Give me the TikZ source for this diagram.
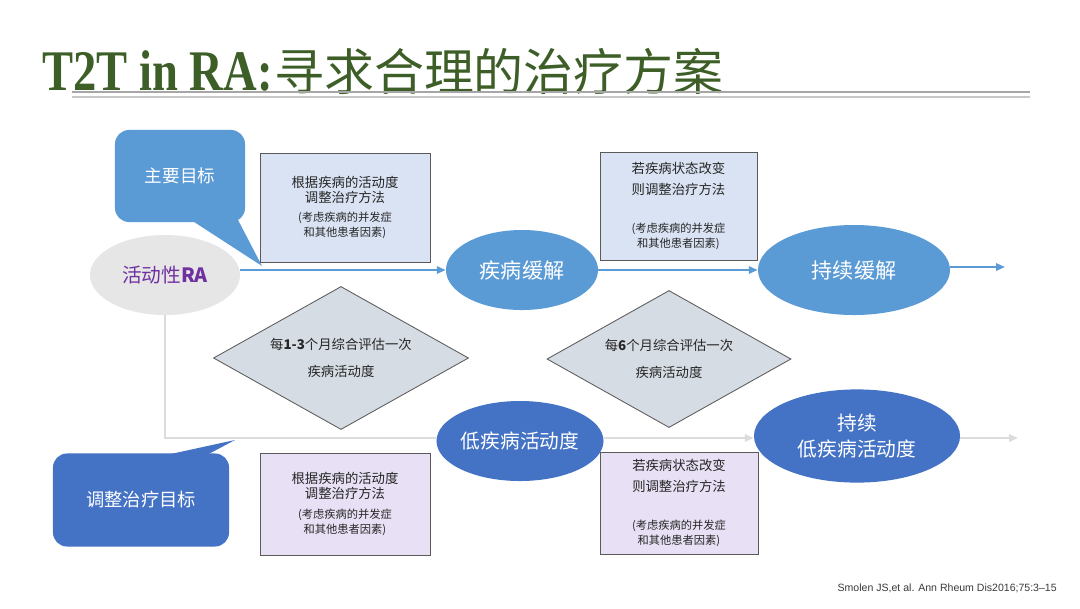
\documentclass[tikz,border=0pt]{standalone}
\usepackage{fontspec}
\setmainfont{Noto Sans CJK SC}
\newfontfamily\titleserif{Liberation Serif}
\newfontfamily\citefont{Liberation Sans}
\usepackage{tikz}
\usetikzlibrary{arrows.meta,shapes.geometric}
\definecolor{RABlue}{HTML}{5B9BD5}
\definecolor{RABlueDk}{HTML}{4472C4}
\definecolor{RAGrayFill}{HTML}{E7E6E6}
\definecolor{RAPurple}{HTML}{7030A0}
\definecolor{RANoteBlue}{HTML}{DAE3F3}
\definecolor{RANotePurple}{HTML}{E8E0F4}
\definecolor{RADiamond}{HTML}{D6DCE4}
\definecolor{RAEdge}{HTML}{5A5A5A}
\definecolor{RAInk}{HTML}{262626}
\definecolor{RALine}{HTML}{DCDCDC}
\definecolor{RAGreen}{HTML}{3D5F27}
\definecolor{RARule}{HTML}{A6A6A6}
\definecolor{RARuleLt}{HTML}{C8C8C8}
\definecolor{RACite}{HTML}{3A3A3A}
\newcommand\notesmall{\fontsize{8}{10.5}\selectfont}
\tikzset{
  flow/.style={-{Triangle[length=2.2mm,width=1.8mm]},RABlue,line width=1.4pt},
  flowgray/.style={flow,RALine},
  track/.style={RALine,line width=1.4pt},
  titlerule/.style={RARule,line width=1.4pt},
  titlerulelt/.style={RARuleLt,line width=1.1pt},
  goal/.style={ellipse,fill=RABlue,text=white,inner sep=0pt,align=center,
               font=\fontsize{15}{18}\selectfont},
  goallow/.style={goal,fill=RABlueDk,font=\fontsize{14}{18.5}\selectfont},
  start/.style={ellipse,fill=RAGrayFill,text=RAPurple,inner sep=0pt,
                font=\fontsize{14}{17}\selectfont},
  note/.style={draw=RAEdge,line width=0.6pt,fill=RANoteBlue,text=RAInk,
               align=center,inner sep=0pt,font=\fontsize{9.5}{10.7}\selectfont},
  notepurple/.style={note,fill=RANotePurple},
  check/.style={diamond,aspect=1.8,draw=RAEdge,line width=0.6pt,fill=RADiamond,
                text=RAInk,align=center,inner sep=0pt,font=\fontsize{9.5}{19}\selectfont},
  bubble/.style={fill=RABlue,rounded corners=3.5mm,text=white,inner sep=0pt,
                 font=\fontsize{12.5}{15}\selectfont},
  bubbledark/.style={bubble,fill=RABlueDk,font=\fontsize{13}{15}\selectfont},
}
\begin{document}
\begin{tikzpicture}[x=0.025cm,y=-0.025cm]
  \useasboundingbox[fill=white] (0,0) rectangle (1080,608);

  \node[anchor=base west,inner sep=0pt,text=RAGreen] (ttl) at (42,90)
    {\scalebox{0.77}[0.95]{\titleserif\fontsize{43}{46}\selectfont\bfseries T2T in RA:}};
  \node[anchor=base west,inner sep=0pt,text=RAGreen,font=\fontsize{35.5}{40}\selectfont] (ttlcn) at (274,90)
    {寻求合理的治疗方案};
  \draw[titlerule] (72,92) -- (1030,92);
  \draw[titlerulelt] (72,97) -- (1030,97);

  \fill[RABlue] (188,218) -- (262,266) -- (237,218) -- cycle;
  \node[bubble,minimum width=3.25cm,minimum height=2.3cm] (aim) at (180,176) {主要目标};
  \fill[RABlueDk] (157,457) -- (235,440) -- (203,457) -- cycle;
  \node[bubbledark,minimum width=4.4cm,minimum height=2.325cm] (reaim) at (141,500) {调整治疗目标};

  \node[start,minimum width=3.75cm,minimum height=2.0cm] (ra) at (165,275) {活动性\textbf{RA}};
  \node[goal,minimum width=3.8cm,minimum height=2.0cm] (rem) at (522,270) {疾病缓解};
  \node[goal,minimum width=4.8cm,minimum height=2.25cm] (srem) at (854,270) {持续缓解};
  \node[goallow,minimum width=4.15cm,minimum height=2.0cm] (low) at (520,441) {低疾病活动度};
  \node[goallow,minimum width=5.15cm,minimum height=2.33cm] (slow) at (857,436) {持续\\低疾病活动度};
  \coordinate (remout) at (1005,267);
  \coordinate (lowout) at (1018,438);

  \node[note,minimum width=4.25cm,minimum height=2.725cm] (adj1) at (345,207.5)
    {根据疾病的活动度\\调整治疗方法\\[3pt]\notesmall(考虑疾病的并发症\\\notesmall 和其他患者因素)};
  \node[note,minimum width=3.925cm,minimum height=2.7cm] (chg1) at (678.5,206)
    {若疾病状态改变\\[4pt]则调整治疗方法\\[16pt]\notesmall(考虑疾病的并发症\\\notesmall 和其他患者因素)};
  \node[notepurple,minimum width=4.25cm,minimum height=2.55cm] (adj2) at (345,504)
    {根据疾病的活动度\\调整治疗方法\\[3pt]\notesmall(考虑疾病的并发症\\\notesmall 和其他患者因素)};
  \node[notepurple,minimum width=3.95cm,minimum height=2.55cm] (chg2) at (679,503)
    {若疾病状态改变\\[4pt]则调整治疗方法\\[16pt]\notesmall(考虑疾病的并发症\\\notesmall 和其他患者因素)};

  \node[check,minimum width=6.375cm,minimum height=3.575cm] (eval1) at (341,358)
    {每\textbf{1-3}个月综合评估一次\\疾病活动度};
  \node[check,minimum width=6.1cm,minimum height=3.425cm] (eval2) at (669,359)
    {每\textbf{6}个月综合评估一次\\疾病活动度};

  \draw[flow] (ra.east |- rem.west) -- (rem.west);
  \draw[flow] (rem.east) -- (srem.west);
  \draw[flow] (srem.east |- remout) -- (remout);
  \draw[track] (ra.south) |- (low.west |- lowout);
  \draw[flowgray] (low.east |- lowout) -- (slow.west |- lowout);
  \draw[flowgray] (slow.east |- lowout) -- (lowout);

  \node[anchor=base east,inner sep=0pt,text=RACite,font=\citefont\fontsize{7.5}{9}\selectfont] (cite) at (1057,591)
    {Smolen JS,et al. Ann Rheum Dis2016;75:3–15};
\end{tikzpicture}
\end{document}
